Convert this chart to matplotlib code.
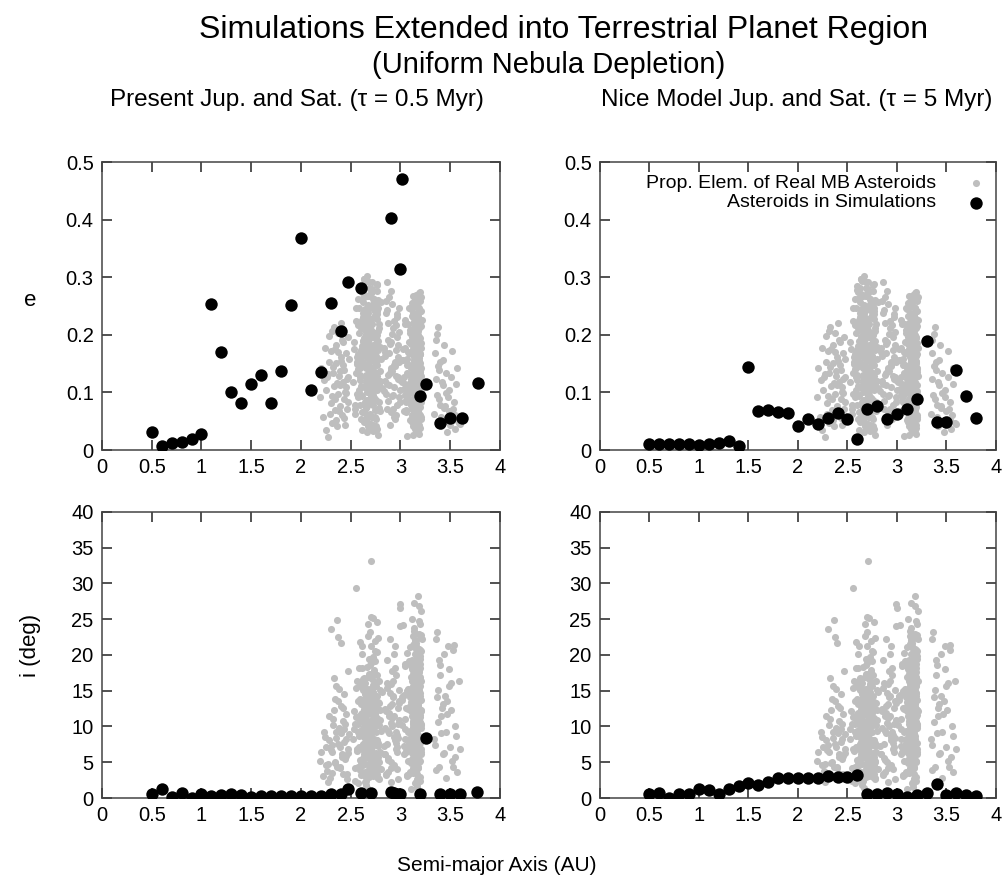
import matplotlib
matplotlib.use("Agg")
import matplotlib.pyplot as plt
from matplotlib.ticker import FuncFormatter

plt.rcParams['font.family'] = ['Liberation Sans', 'DejaVu Sans']

# simulated asteroids, present Jupiter and Saturn (tau = 0.5 Myr)
present_a_e = [0.5, 0.6, 0.7, 0.8, 0.9, 1.0, 1.1, 1.2, 1.3, 1.4, 1.5, 1.6, 1.7, 1.8, 1.9, 2.0,
               2.1, 2.2, 2.3, 2.4, 2.47, 2.6, 2.9, 3.0, 3.02, 3.2, 3.26, 3.4, 3.5, 3.62, 3.78]
present_e = [0.032, 0.0075, 0.013, 0.014, 0.020, 0.028, 0.254, 0.171, 0.100, 0.081, 0.114, 0.130,
             0.081, 0.138, 0.252, 0.368, 0.105, 0.135, 0.256, 0.207, 0.291, 0.282, 0.402, 0.315,
             0.470, 0.094, 0.114, 0.047, 0.055, 0.055, 0.117]
present_a_i = [0.5, 0.6, 0.7, 0.8, 0.9, 1.0, 1.1, 1.2, 1.3, 1.4, 1.5, 1.6, 1.7, 1.8, 1.9, 2.0,
               2.1, 2.2, 2.3, 2.4, 2.47, 2.6, 2.7, 2.9, 2.93, 2.97, 3.0, 3.2, 3.26, 3.4, 3.5, 3.6, 3.77]
present_i = [0.5, 1.2, 0.2, 0.7, 0.0, 0.6, 0.3, 0.4, 0.6, 0.4, 0.2, 0.3, 0.3, 0.3, 0.3, 0.3,
             0.3, 0.3, 0.5, 0.5, 1.3, 0.7, 0.7, 0.8, 0.7, 0.5, 0.6, 0.5, 8.4, 0.5, 0.5, 0.6, 0.9]

# simulated asteroids, Nice model Jupiter and Saturn (tau = 5 Myr)
nice_a = [0.5, 0.6, 0.7, 0.8, 0.9, 1.0, 1.1, 1.2, 1.3, 1.4, 1.5, 1.6, 1.7, 1.8, 1.9, 2.0, 2.1,
          2.2, 2.3, 2.4, 2.5, 2.6, 2.7, 2.8, 2.9, 3.0, 3.1, 3.2, 3.3, 3.4, 3.5, 3.6, 3.7, 3.8]
nice_e = [0.010, 0.010, 0.010, 0.010, 0.010, 0.008, 0.010, 0.012, 0.016, 0.007, 0.144, 0.068,
          0.069, 0.066, 0.065, 0.042, 0.054, 0.046, 0.055, 0.064, 0.053, 0.020, 0.071, 0.076,
          0.053, 0.062, 0.072, 0.088, 0.190, 0.049, 0.049, 0.139, 0.094, 0.056]
nice_i = [0.6, 0.7, 0.0, 0.5, 0.6, 1.3, 1.1, 0.6, 1.3, 1.7, 2.1, 1.8, 2.3, 2.8, 2.8, 2.8, 2.8,
          2.8, 3.1, 2.9, 3.0, 3.2, 0.6, 0.6, 0.7, 0.5, 0.2, 0.4, 0.7, 1.9, 0.4, 0.7, 0.4, 0.3]

# proper elements of real main-belt asteroids, read zone by zone
inner_a = [2.192, 2.205, 2.218, 2.231, 2.247, 2.256, 2.268, 2.279, 2.285, 2.297,
           2.302, 2.311, 2.318, 2.327, 2.334, 2.341, 2.349, 2.356, 2.362, 2.371,
           2.377, 2.384, 2.391, 2.398, 2.404, 2.411, 2.418, 2.423, 2.431, 2.437,
           2.442, 2.449, 2.455, 2.461, 2.468, 2.474, 2.479, 2.308, 2.366, 2.427,
           2.289, 2.337, 2.389, 2.446, 2.262, 2.352, 2.415, 2.471, 2.324, 2.395,
           2.238, 2.381, 2.458, 2.315, 2.402, 2.344, 2.276, 2.433, 2.369, 2.452]
inner_e = [0.092, 0.143, 0.058, 0.121, 0.034, 0.104, 0.022, 0.153, 0.198, 0.081,
           0.172, 0.047, 0.133, 0.214, 0.112, 0.069, 0.183, 0.151, 0.041, 0.097,
           0.203, 0.128, 0.076, 0.162, 0.221, 0.061, 0.118, 0.187, 0.089, 0.139,
           0.044, 0.109, 0.168, 0.072, 0.196, 0.126, 0.158, 0.094, 0.117, 0.148,
           0.063, 0.176, 0.138, 0.101, 0.127, 0.052, 0.191, 0.083, 0.145, 0.113,
           0.178, 0.067, 0.124, 0.207, 0.155, 0.088, 0.132, 0.056, 0.171, 0.099]
inner_i = [5.2, 6.4, 3.1, 9.3, 4.6, 7.2, 2.3, 11.4, 8.1, 6.7,
           23.6, 3.5, 10.2, 16.8, 12.3, 5.1, 15.7, 8.4, 24.9, 13.6,
           7.5, 9.8, 4.2, 21.7, 12.9, 6.1, 10.8, 3.4, 14.6, 9.7,
           5.4, 8.3, 11.7, 2.6, 17.8, 6.3, 8.9, 7.4, 4.3, 12.6,
           2.8, 4.9, 7.1, 10.4, 3.8, 9.2, 5.7, 6.9, 11.1, 4.4,
           8.6, 15.2, 3.3, 6.5, 9.1, 13.9, 4.7, 7.8, 22.5, 5.9]

mid_a = [2.521, 2.534, 2.547, 2.553, 2.562, 2.571, 2.578, 2.586, 2.593, 2.601,
         2.608, 2.614, 2.622, 2.629, 2.636, 2.643, 2.651, 2.657, 2.664, 2.671,
         2.678, 2.684, 2.691, 2.698, 2.705, 2.712, 2.719, 2.726, 2.733, 2.741,
         2.748, 2.755, 2.762, 2.769, 2.776, 2.784, 2.791, 2.798, 2.806, 2.812,
         2.528, 2.541, 2.556, 2.567, 2.583, 2.597, 2.611, 2.625, 2.639, 2.654,
         2.667, 2.681, 2.694, 2.708, 2.722, 2.737, 2.751, 2.765, 2.779, 2.794,
         2.545, 2.573, 2.602, 2.631, 2.659, 2.688, 2.716, 2.745, 2.773, 2.802,
         2.552, 2.588, 2.617, 2.646, 2.674, 2.703, 2.731, 2.759, 2.787, 2.566,
         2.595, 2.627, 2.662, 2.695, 2.728, 2.757, 2.782, 2.611, 2.648, 2.685,
         2.719, 2.753, 2.639, 2.676, 2.713, 2.743, 2.604, 2.668, 2.701, 2.734,
         2.581, 2.619, 2.653, 2.689, 2.724, 2.762, 2.796, 2.558, 2.633, 2.706,
         2.641, 2.672, 2.696, 2.727, 2.749, 2.771, 2.589, 2.615, 2.657, 2.683,
         2.662, 2.699, 2.738, 2.646, 2.681, 2.715, 2.627, 2.693, 2.739, 2.767,
         2.575, 2.606, 2.637, 2.669, 2.702, 2.735, 2.768, 2.659, 2.687, 2.711,
         2.649, 2.676, 2.704, 2.731, 2.664, 2.692, 2.721, 2.755, 2.636, 2.718,
         2.603, 2.617, 2.628, 2.639, 2.652, 2.661, 2.673, 2.686, 2.697, 2.709,
         2.721, 2.732, 2.744, 2.756, 2.767, 2.778, 2.789, 2.612, 2.634, 2.656,
         2.679, 2.701, 2.723, 2.746, 2.768, 2.591, 2.622, 2.645, 2.668, 2.692,
         2.714, 2.737, 2.759, 2.781, 2.607, 2.631, 2.653, 2.677, 2.699, 2.722,
         2.743, 2.764, 2.586, 2.619, 2.642, 2.665, 2.688, 2.711, 2.733, 2.754,
         2.776, 2.598, 2.626, 2.649, 2.672, 2.694, 2.717, 2.739, 2.761, 2.614,
         2.637, 2.659, 2.683, 2.706, 2.728, 2.751, 2.772, 2.594, 2.641, 2.687,
         2.729, 2.766, 2.621, 2.663, 2.705, 2.747, 2.609, 2.651, 2.693, 2.736,
         2.578, 2.629, 2.671, 2.713, 2.758, 2.644, 2.682, 2.724, 2.616, 2.667,
         2.702, 2.741, 2.655, 2.689, 2.732, 2.599, 2.674, 2.718, 2.643, 2.696]
mid_e = [0.118, 0.176, 0.071, 0.224, 0.149, 0.262, 0.092, 0.203, 0.131, 0.284,
         0.054, 0.168, 0.238, 0.109, 0.297, 0.083, 0.193, 0.142, 0.031, 0.251,
         0.103, 0.161, 0.214, 0.062, 0.272, 0.128, 0.183, 0.229, 0.088, 0.152,
         0.198, 0.042, 0.121, 0.288, 0.174, 0.219, 0.068, 0.137, 0.257, 0.107,
         0.188, 0.079, 0.246, 0.153, 0.098, 0.277, 0.181, 0.052, 0.208, 0.127,
         0.232, 0.141, 0.268, 0.093, 0.196, 0.117, 0.163, 0.241, 0.026, 0.179,
         0.063, 0.217, 0.148, 0.187, 0.101, 0.268, 0.082, 0.113, 0.206, 0.158,
         0.134, 0.246, 0.035, 0.171, 0.124, 0.096, 0.243, 0.287, 0.073, 0.162,
         0.121, 0.189, 0.057, 0.226, 0.144, 0.086, 0.212, 0.274, 0.166, 0.039,
         0.128, 0.253, 0.191, 0.147, 0.058, 0.234, 0.112, 0.302, 0.178, 0.091,
         0.156, 0.211, 0.074, 0.139, 0.263, 0.185, 0.119, 0.097, 0.227, 0.046,
         0.172, 0.106, 0.248, 0.159, 0.192, 0.071, 0.143, 0.221, 0.131, 0.281,
         0.087, 0.169, 0.125, 0.215, 0.044, 0.199, 0.257, 0.114, 0.154, 0.236,
         0.166, 0.095, 0.271, 0.186, 0.136, 0.258, 0.148, 0.076, 0.292, 0.205,
         0.062, 0.218, 0.157, 0.104, 0.239, 0.123, 0.181, 0.069, 0.195, 0.134,
         0.212, 0.066, 0.153, 0.244, 0.118, 0.187, 0.041, 0.223, 0.137, 0.279,
         0.096, 0.171, 0.058, 0.203, 0.129, 0.261, 0.084, 0.146, 0.297, 0.073,
         0.192, 0.108, 0.254, 0.164, 0.037, 0.126, 0.231, 0.182, 0.061, 0.144,
         0.218, 0.091, 0.276, 0.115, 0.169, 0.049, 0.236, 0.131, 0.206, 0.078,
         0.158, 0.227, 0.104, 0.264, 0.195, 0.087, 0.173, 0.291, 0.123, 0.054,
         0.189, 0.161, 0.282, 0.112, 0.047, 0.226, 0.141, 0.069, 0.199, 0.093,
         0.177, 0.268, 0.116, 0.209, 0.033, 0.152, 0.247, 0.079, 0.197, 0.138,
         0.262, 0.104, 0.189, 0.056, 0.167, 0.231, 0.148, 0.211, 0.082, 0.175,
         0.141, 0.066, 0.238, 0.118, 0.184, 0.293, 0.157, 0.043, 0.226, 0.109,
         0.272, 0.135, 0.201, 0.086, 0.249, 0.173, 0.121, 0.057, 0.163, 0.214]
mid_i = [8.3, 12.1, 4.2, 15.4, 6.7, 10.3, 2.1, 18.2, 9.4, 13.6,
         5.1, 21.3, 7.6, 11.2, 3.3, 16.1, 8.8, 14.2, 1.4, 10.7,
         6.2, 19.4, 12.6, 4.5, 9.1, 15.3, 25.2, 7.4, 11.6, 3.7,
         13.1, 5.6, 17.2, 8.1, 22.4, 10.2, 6.5, 12.3, 4.1, 14.8,
         9.6, 2.4, 11.3, 16.4, 7.2, 13.5, 20.1, 5.3, 10.8, 8.4,
         14.3, 6.1, 23.2, 12.4, 3.1, 17.6, 9.3, 11.2, 7.7, 15.1,
         10.4, 4.3, 13.2, 8.6, 18.3, 6.4, 12.7, 16.2, 5.2, 9.4,
         29.4, 11.1, 7.3, 14.6, 24.3, 33.1, 10.6, 20.4, 13.3, 6.6,
         3.9, 9.8, 5.7, 12.2, 15.8, 7.9, 2.6, 11.9, 4.8, 8.9,
         13.8, 6.3, 10.1, 16.9, 3.4, 12.8, 7.1, 9.2, 25.3, 5.4,
         11.5, 4.6, 14.1, 8.2, 19.6, 2.9, 10.9, 6.9, 13.7, 17.4,
         7.8, 12.9, 3.6, 9.9, 15.6, 5.8, 21.8, 11.4, 8.5, 4.1,
         14.9, 6.8, 10.5, 2.2, 13.4, 8.3, 16.7, 5.1, 11.8, 24.6,
         9.3, 3.2, 12.5, 7.5, 18.9, 10.3, 4.7, 15.2, 6.1, 13.1,
         1.8, 11.7, 8.7, 14.4, 5.9, 9.6, 12.1, 3.8, 16.3, 7.2,
         11.4, 6.8, 15.1, 3.7, 9.6, 13.2, 7.1, 17.3, 4.6, 10.9,
         14.7, 8.2, 19.1, 5.4, 12.6, 2.8, 16.4, 9.3, 6.2, 13.8,
         10.1, 21.2, 4.9, 11.9, 7.6, 15.7, 8.8, 3.1, 12.4, 18.6,
         6.4, 10.7, 14.2, 5.1, 9.1, 16.8, 2.4, 13.3, 7.8, 11.2,
         20.6, 4.3, 8.7, 15.4, 6.1, 12.2, 9.7, 3.8, 17.9, 10.4,
         7.3, 13.9, 5.6, 11.6, 22.7, 8.3, 14.6, 4.1, 10.2, 16.1,
         6.7, 12.8, 2.9, 9.4, 19.7, 7.9, 13.4, 5.3, 11.1, 8.6,
         15.9, 3.4, 10.6, 14.1, 6.6, 12.1, 18.2, 7.4, 9.9, 4.7,
         13.6, 11.3, 5.9, 16.6, 8.1, 10.8, 3.3, 14.8, 7.2, 12.7,
         6.3, 21.9, 9.2, 15.3, 4.4, 11.8, 8.4, 17.1, 13.1, 5.7]

pre_a = [2.832, 2.846, 2.857, 2.868, 2.879, 2.891, 2.903, 2.914, 2.926, 2.937,
         2.949, 2.961, 2.972, 2.984, 2.995, 2.841, 2.863, 2.885, 2.908, 2.931,
         2.953, 2.976, 2.998, 2.852, 2.874, 2.897, 2.919, 2.942, 2.966, 2.988,
         2.838, 2.861, 2.882, 2.905, 2.928, 2.951, 2.973, 2.993, 2.856, 2.901,
         2.944, 2.981, 2.871, 2.912, 2.958, 2.887, 2.934, 2.969, 2.849, 2.923,
         2.876, 2.917, 2.962, 2.894, 2.939, 2.986, 2.866, 2.909, 2.955, 2.979]
pre_e = [0.102, 0.164, 0.238, 0.072, 0.191, 0.133, 0.276, 0.094, 0.212, 0.148,
         0.053, 0.197, 0.124, 0.247, 0.083, 0.171, 0.291, 0.113, 0.142, 0.224,
         0.061, 0.182, 0.104, 0.258, 0.131, 0.044, 0.202, 0.153, 0.231, 0.092,
         0.178, 0.114, 0.266, 0.139, 0.071, 0.217, 0.161, 0.121, 0.098, 0.187,
         0.146, 0.205, 0.085, 0.253, 0.128, 0.168, 0.057, 0.236, 0.119, 0.096,
         0.221, 0.137, 0.079, 0.184, 0.109, 0.152, 0.243, 0.066, 0.173, 0.127]
pre_i = [7.3, 12.4, 3.2, 16.1, 9.4, 22.3, 5.1, 11.2, 14.3, 8.6,
         18.2, 4.1, 10.3, 13.6, 27.1, 6.2, 15.4, 9.1, 2.3, 11.5,
         17.2, 8.4, 26.6, 12.2, 5.3, 14.7, 10.1, 21.2, 7.2, 13.3,
         6.1, 19.3, 11.4, 4.2, 16.3, 9.2, 12.6, 24.1, 3.4, 10.5,
         8.1, 15.1, 5.6, 13.2, 7.7, 11.9, 20.2, 6.4, 9.8, 14.1,
         3.7, 17.7, 8.8, 12.9, 4.6, 10.9, 7.5, 15.9, 6.8, 2.6]

outer_a = [3.012, 3.024, 3.037, 3.049, 3.061, 3.073, 3.086, 3.098, 3.109, 3.118,
           3.126, 3.134, 3.141, 3.148, 3.155, 3.162, 3.169, 3.176, 3.183, 3.191,
           3.198, 3.206, 3.213, 3.019, 3.043, 3.067, 3.091, 3.113, 3.131, 3.145,
           3.158, 3.171, 3.186, 3.201, 3.029, 3.055, 3.079, 3.103, 3.122, 3.139,
           3.152, 3.166, 3.179, 3.194, 3.209, 3.041, 3.083, 3.115, 3.136, 3.157,
           3.174, 3.188, 3.203, 3.064, 3.106, 3.128, 3.149, 3.165, 3.181, 3.196,
           3.033, 3.071, 3.101, 3.124, 3.143, 3.161, 3.177, 3.192, 3.207, 3.119,
           3.138, 3.154, 3.168, 3.184, 3.199, 3.052, 3.094, 3.129, 3.151, 3.173,
           3.187, 3.211, 3.076, 3.111, 3.133, 3.147, 3.163, 3.178, 3.193, 3.141,
           3.159, 3.172, 3.185, 3.204, 3.117, 3.146, 3.167, 3.189, 3.058, 3.099,
           3.127, 3.153, 3.175, 3.197, 3.144, 3.164, 3.182, 3.121, 3.156, 3.179,
           3.195, 3.135, 3.161, 3.186, 3.108, 3.149, 3.171, 3.202, 3.085, 3.132,
           3.168, 3.191, 3.142, 3.176, 3.047, 3.114, 3.157, 3.183, 3.137, 3.165,
           3.198, 3.124, 3.152, 3.188, 3.069, 3.139, 3.174, 3.208, 3.146, 3.181,
           3.016, 3.088, 3.131, 3.162, 3.193, 3.154, 3.177, 3.116, 3.149, 3.185,
           3.168, 3.141, 3.196, 3.127, 3.159, 3.184, 3.104, 3.172, 3.137, 3.203,
           3.106, 3.112, 3.118, 3.123, 3.129, 3.134, 3.139, 3.144, 3.149, 3.153,
           3.158, 3.163, 3.167, 3.172, 3.176, 3.181, 3.185, 3.189, 3.194, 3.198,
           3.202, 3.207, 3.111, 3.121, 3.132, 3.142, 3.151, 3.161, 3.171, 3.182,
           3.191, 3.201, 3.116, 3.127, 3.137, 3.147, 3.157, 3.166, 3.176, 3.186,
           3.196, 3.205, 3.038, 3.057, 3.074, 3.093, 3.062, 3.081, 3.045, 3.097,
           3.119, 3.131, 3.143, 3.154, 3.165, 3.175, 3.187, 3.197, 3.108, 3.126,
           3.139, 3.152, 3.164, 3.178, 3.192, 3.204, 3.113, 3.135, 3.156, 3.173,
           3.188, 3.124, 3.146, 3.168, 3.183, 3.199, 3.138, 3.159, 3.179, 3.194,
           3.128, 3.149, 3.171, 3.186, 3.141, 3.162, 3.181, 3.132, 3.155, 3.177,
           3.192, 3.145, 3.169, 3.184, 3.122, 3.158, 3.174, 3.189, 3.148, 3.166]
outer_e = [0.118, 0.176, 0.068, 0.219, 0.148, 0.097, 0.247, 0.052, 0.186, 0.128,
           0.268, 0.081, 0.207, 0.158, 0.109, 0.032, 0.236, 0.139, 0.088, 0.197,
           0.166, 0.058, 0.226, 0.119, 0.178, 0.024, 0.146, 0.255, 0.098, 0.211,
           0.077, 0.193, 0.128, 0.259, 0.157, 0.066, 0.218, 0.106, 0.041, 0.184,
           0.147, 0.087, 0.229, 0.131, 0.265, 0.096, 0.168, 0.049, 0.138, 0.115,
           0.206, 0.176, 0.053, 0.158, 0.079, 0.238, 0.117, 0.186, 0.072, 0.137,
           0.106, 0.148, 0.244, 0.089, 0.198, 0.127, 0.034, 0.166, 0.215, 0.061,
           0.155, 0.257, 0.099, 0.178, 0.136, 0.087, 0.208, 0.116, 0.162, 0.233,
           0.043, 0.128, 0.107, 0.056, 0.249, 0.092, 0.149, 0.196, 0.101, 0.174,
           0.124, 0.216, 0.063, 0.143, 0.188, 0.037, 0.227, 0.154, 0.083, 0.131,
           0.198, 0.073, 0.164, 0.241, 0.112, 0.181, 0.094, 0.132, 0.205, 0.057,
           0.151, 0.223, 0.119, 0.079, 0.169, 0.261, 0.138, 0.102, 0.187, 0.064,
           0.231, 0.129, 0.183, 0.046, 0.114, 0.172, 0.203, 0.152, 0.082, 0.141,
           0.093, 0.197, 0.061, 0.163, 0.134, 0.252, 0.108, 0.177, 0.214, 0.069,
           0.156, 0.104, 0.189, 0.121, 0.274, 0.071, 0.143, 0.233, 0.097, 0.159,
           0.221, 0.051, 0.135, 0.195, 0.086, 0.246, 0.123, 0.167, 0.211, 0.113,
           0.143, 0.208, 0.071, 0.176, 0.231, 0.098, 0.157, 0.263, 0.119, 0.044,
           0.189, 0.136, 0.217, 0.067, 0.248, 0.105, 0.171, 0.028, 0.194, 0.128,
           0.241, 0.083, 0.166, 0.054, 0.223, 0.112, 0.181, 0.269, 0.092, 0.147,
           0.212, 0.061, 0.197, 0.134, 0.251, 0.076, 0.169, 0.103, 0.228, 0.149,
           0.038, 0.186, 0.127, 0.069, 0.171, 0.204, 0.094, 0.148, 0.226, 0.116,
           0.087, 0.234, 0.152, 0.048, 0.201, 0.124, 0.263, 0.074, 0.184, 0.109,
           0.217, 0.139, 0.059, 0.246, 0.167, 0.097, 0.132, 0.257, 0.084, 0.193,
           0.153, 0.026, 0.178, 0.121, 0.239, 0.141, 0.206, 0.066, 0.162, 0.223,
           0.101, 0.188, 0.138, 0.272, 0.079, 0.214, 0.118, 0.161, 0.052, 0.199,
           0.144, 0.229, 0.091, 0.174, 0.253, 0.113, 0.039, 0.182, 0.127, 0.237]
outer_i = [10.2, 14.3, 6.1, 18.4, 3.2, 12.5, 8.3, 21.1, 15.2, 5.4,
           11.3, 17.2, 9.5, 2.1, 13.4, 7.3, 16.2, 4.4, 19.1, 10.6,
           12.3, 6.4, 22.2, 14.1, 8.2, 20.3, 3.6, 11.4, 16.7, 9.2,
           13.2, 5.3, 17.8, 10.1, 24.2, 7.1, 15.3, 1.3, 12.4, 18.1,
           4.1, 11.2, 8.3, 14.2, 26.2, 9.6, 19.2, 6.3, 13.6, 20.1,
           7.4, 16.1, 10.3, 3.1, 12.2, 22.6, 8.4, 15.2, 11.1, 5.2,
           14.4, 9.3, 18.6, 6.2, 23.1, 12.1, 17.3, 2.4, 10.2, 13.3,
           27.3, 8.1, 15.4, 11.3, 19.4, 6.5, 14.1, 21.4, 9.2, 16.3,
           5.1, 12.2, 7.2, 25.1, 10.4, 17.1, 13.2, 28.2, 18.2, 8.3,
           15.6, 4.2, 11.7, 20.6, 8.8, 13.9, 2.7, 16.8, 6.6, 12.8,
           9.9, 18.8, 5.8, 14.7, 21.9, 10.8, 7.6, 17.9, 3.8, 12.7,
           16.6, 8.9, 13.1, 22.9, 4.9, 11.8, 19.8, 6.9, 14.6, 9.1,
           3.4, 15.8, 10.7, 7.9, 18.7, 12.9, 5.6, 20.8, 13.8, 1.9,
           11.6, 17.4, 8.6, 24.8, 14.9, 6.8, 10.9, 16.4, 4.6, 19.6,
           13.7, 7.7, 21.6, 9.7, 15.7, 3.9, 12.6, 18.3, 11.9, 6.7,
           17.6, 14.8, 2.9, 10.5, 20.9, 8.7, 16.9, 5.9, 23.8, 12.3,
           13.4, 7.6, 19.3, 10.8, 4.2, 16.1, 11.7, 22.1, 8.4, 14.6,
           5.7, 17.8, 9.1, 12.9, 2.6, 20.4, 15.1, 6.9, 11.3, 24.3,
           9.8, 13.7, 18.1, 3.5, 14.3, 7.9, 21.7, 10.2, 16.7, 5.3,
           12.4, 19.9, 8.2, 15.6, 4.8, 11.9, 17.2, 6.4, 13.1, 26.8,
           10.6, 22.8, 7.3, 12.6, 5.2, 9.4, 14.9, 3.3, 11.1, 6.8,
           16.4, 8.9, 20.1, 12.1, 1.6, 15.3, 10.3, 18.7, 7.1, 13.9,
           4.6, 21.2, 11.5, 9.6, 16.9, 6.1, 14.4, 23.4, 8.7, 12.3,
           17.6, 10.4, 5.9, 19.4, 13.6, 7.7, 15.8, 2.2, 11.8, 20.7,
           9.3, 14.1, 6.6, 16.3, 12.7, 4.3, 18.4, 10.9, 8.1, 13.2,
           22.4, 7.4, 15.1, 11.6, 5.4, 17.7, 9.7, 14.7, 3.9, 12.9]

cyb_a = [3.341, 3.356, 3.372, 3.385, 3.398, 3.411, 3.426, 3.441, 3.457, 3.472,
         3.488, 3.503, 3.519, 3.536, 3.552, 3.568, 3.585, 3.349, 3.364, 3.379,
         3.392, 3.405, 3.419, 3.434, 3.448, 3.463, 3.481, 3.496, 3.512, 3.529,
         3.545, 3.561, 3.353, 3.376, 3.401, 3.429, 3.454, 3.492, 3.531, 3.597]
cyb_e = [0.062, 0.124, 0.201, 0.088, 0.152, 0.041, 0.113, 0.073, 0.134, 0.032,
         0.104, 0.054, 0.172, 0.083, 0.061, 0.142, 0.047, 0.168, 0.096, 0.213,
         0.139, 0.058, 0.118, 0.182, 0.076, 0.051, 0.092, 0.043, 0.127, 0.071,
         0.036, 0.114, 0.191, 0.146, 0.078, 0.157, 0.099, 0.068, 0.052, 0.045]
cyb_i = [8.2, 22.3, 14.1, 4.3, 17.2, 11.4, 6.1, 20.2, 9.3, 13.5,
         18.1, 12.3, 5.2, 21.4, 10.1, 3.6, 16.3, 7.4, 23.2, 15.1,
         19.3, 9.1, 12.6, 6.3, 14.2, 11.7, 21.3, 7.2, 16.1, 4.4,
         5.8, 8.7, 3.9, 10.6, 18.6, 13.1, 2.8, 15.7, 20.7, 6.9]

mb_a = inner_a + mid_a + pre_a + outer_a + cyb_a
mb_e = inner_e + mid_e + pre_e + outer_e + cyb_e
mb_i = inner_i + mid_i + pre_i + outer_i + cyb_i

x_ticks = [0, 0.5, 1, 1.5, 2, 2.5, 3, 3.5, 4]
e_ticks = [0, 0.1, 0.2, 0.3, 0.4, 0.5]
i_ticks = [0, 5, 10, 15, 20, 25, 30, 35, 40]

gray = '#bebebe'
fig = plt.figure(figsize=(10.08, 8.85), dpi=100)

ax_tl = fig.add_axes([0.1012, 0.4915, 0.3948, 0.3254])
ax_tr = fig.add_axes([0.5952, 0.4915, 0.3929, 0.3254])
ax_bl = fig.add_axes([0.1012, 0.0983, 0.3948, 0.3232])
ax_br = fig.add_axes([0.5952, 0.0983, 0.3929, 0.3232])

fmt = FuncFormatter(lambda v, p: '%g' % v)


def style(ax, yticks):
    ax.set_xlim(0, 4)
    ax.set_ylim(yticks[0], yticks[-1])
    ax.set_xticks(x_ticks)
    ax.set_yticks(yticks)
    ax.xaxis.set_major_formatter(fmt)
    ax.yaxis.set_major_formatter(fmt)
    ax.tick_params(direction='in', length=7, width=1.1, top=True, right=True,
                   labelsize=14.5, pad=6, color='#222222')
    for s in ax.spines.values():
        s.set_linewidth(1.1)
        s.set_color('#444444')


for ax, a, e in [(ax_tl, present_a_e, present_e), (ax_tr, nice_a, nice_e)]:
    ax.scatter(mb_a, mb_e, s=26, color=gray, linewidths=0, zorder=2)
    ax.scatter(a, e, s=80, color='black', linewidths=0, zorder=3)
    style(ax, e_ticks)

for ax, a, i in [(ax_bl, present_a_i, present_i), (ax_br, nice_a, nice_i)]:
    ax.scatter(mb_a, mb_i, s=26, color=gray, linewidths=0, zorder=2)
    ax.scatter(a, i, s=80, color='black', linewidths=0, zorder=3)
    style(ax, i_ticks)

fig.text(0.295, 0.887, 'Present Jup. and Sat. (\u03c4 = 0.5 Myr)', ha='center', va='center',
         fontsize=17.5)
fig.text(0.79, 0.887, 'Nice Model Jup. and Sat. (\u03c4 = 5 Myr)', ha='center', va='center',
         fontsize=17.5)

# legend drawn gnuplot style: right aligned text, symbol after it
ax_tr.text(0.848, 0.927, 'Prop. Elem. of Real MB Asteroids', transform=ax_tr.transAxes,
           ha='right', va='center', fontsize=14)
ax_tr.text(0.848, 0.858, 'Asteroids in Simulations', transform=ax_tr.transAxes,
           ha='right', va='center', fontsize=14)
ax_tr.scatter([0.949], [0.927], s=26, color=gray, linewidths=0, transform=ax_tr.transAxes)
ax_tr.scatter([0.949], [0.858], s=80, color='black', linewidths=0, transform=ax_tr.transAxes)

fig.text(0.03, 0.661, 'e', ha='center', va='center', fontsize=16)
fig.text(0.03, 0.271, 'i (deg)', rotation=90, ha='center', va='center', fontsize=16)
fig.text(0.493, 0.022, 'Semi-major Axis (AU)', ha='center', va='center', fontsize=15)
fig.text(0.5595, 0.966, 'Simulations Extended into Terrestrial Planet Region',
         ha='center', va='center', fontsize=23)
fig.text(0.5446, 0.9266, '(Uniform Nebula Depletion)', ha='center', va='center', fontsize=21)

fig.savefig('out.png', dpi=100)
